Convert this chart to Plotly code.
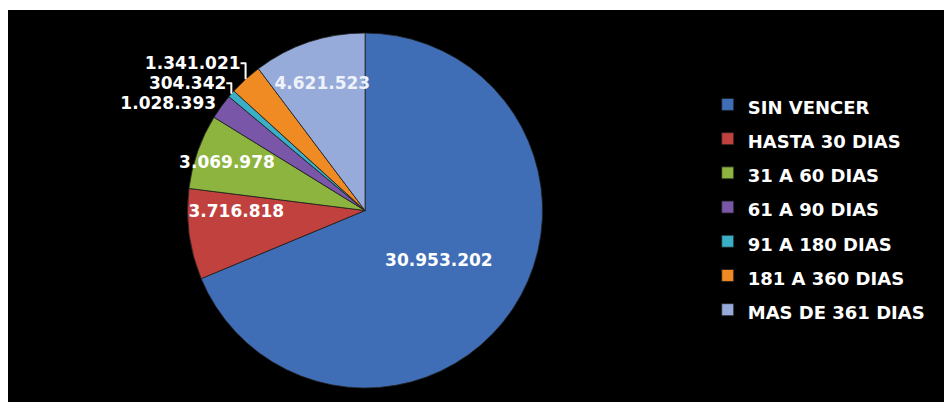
import plotly.graph_objects as go

categories = ["SIN VENCER", "HASTA 30 DIAS", "31 A 60 DIAS", "61 A 90 DIAS",
              "91 A 180 DIAS", "181 A 360 DIAS", "MAS DE 361 DIAS"]
values = [30953202, 3716818, 3069978, 1028393, 304342, 1341021, 4621523]
value_labels = ["30.953.202", "3.716.818", "3.069.978", "1.028.393",
                "304.342", "1.341.021", "4.621.523"]

colors = ["#3F6EB6", "#C0413D", "#8DB43F", "#7A56A8", "#3AB0C8", "#F08A22", "#97ABDA"]
text_positions = ["inside", "inside", "inside", "outside", "outside", "outside", "inside"]
text_colors = ["#FFFFFF", "#FFFFFF", "#FFFFFF", "#FFFFFF", "#FFFFFF", "#FFFFFF", "#EEF2FA"]

legend_labels = ["<span style='font-size:18px'>%s</span>" % c for c in categories]

fig = go.Figure()
fig.add_trace(go.Pie(
    labels=legend_labels,
    values=values,
    text=value_labels,
    textinfo="text",
    textposition=text_positions,
    insidetextorientation="horizontal",
    textfont=dict(family="DejaVu Sans", size=18, color=text_colors, weight="bold"),
    outsidetextfont=dict(family="DejaVu Sans", size=17, color="#FFFFFF", weight="bold"),
    marker=dict(colors=colors, line=dict(color="#202020", width=0.8)),
    sort=False,
    direction="clockwise",
    rotation=0,
    domain=dict(x=[0.1886, 0.5615], y=[0.0547, 0.9378]),
    hoverinfo="label+value",
))

fig.update_layout(
    width=952, height=402,
    margin=dict(l=0, r=0, t=0, b=0),
    paper_bgcolor="#000000",
    plot_bgcolor="#000000",
    showlegend=True,
    uniformtext=dict(minsize=17, mode="show"),
    legend=dict(
        x=0.735, y=0.815, xanchor="left", yanchor="top",
        font=dict(family="DejaVu Sans", size=24, color="#FFFFFF", weight="bold"),
        bgcolor="rgba(0,0,0,0)",
    ),
    shapes=[
        dict(type="rect", xref="paper", yref="paper", x0=0, x1=1, y0=1 - 2 / 402, y1=1,
             fillcolor="#FFFFFF", line=dict(width=0), layer="below"),
    ],
)

fig.write_html("out.html")
